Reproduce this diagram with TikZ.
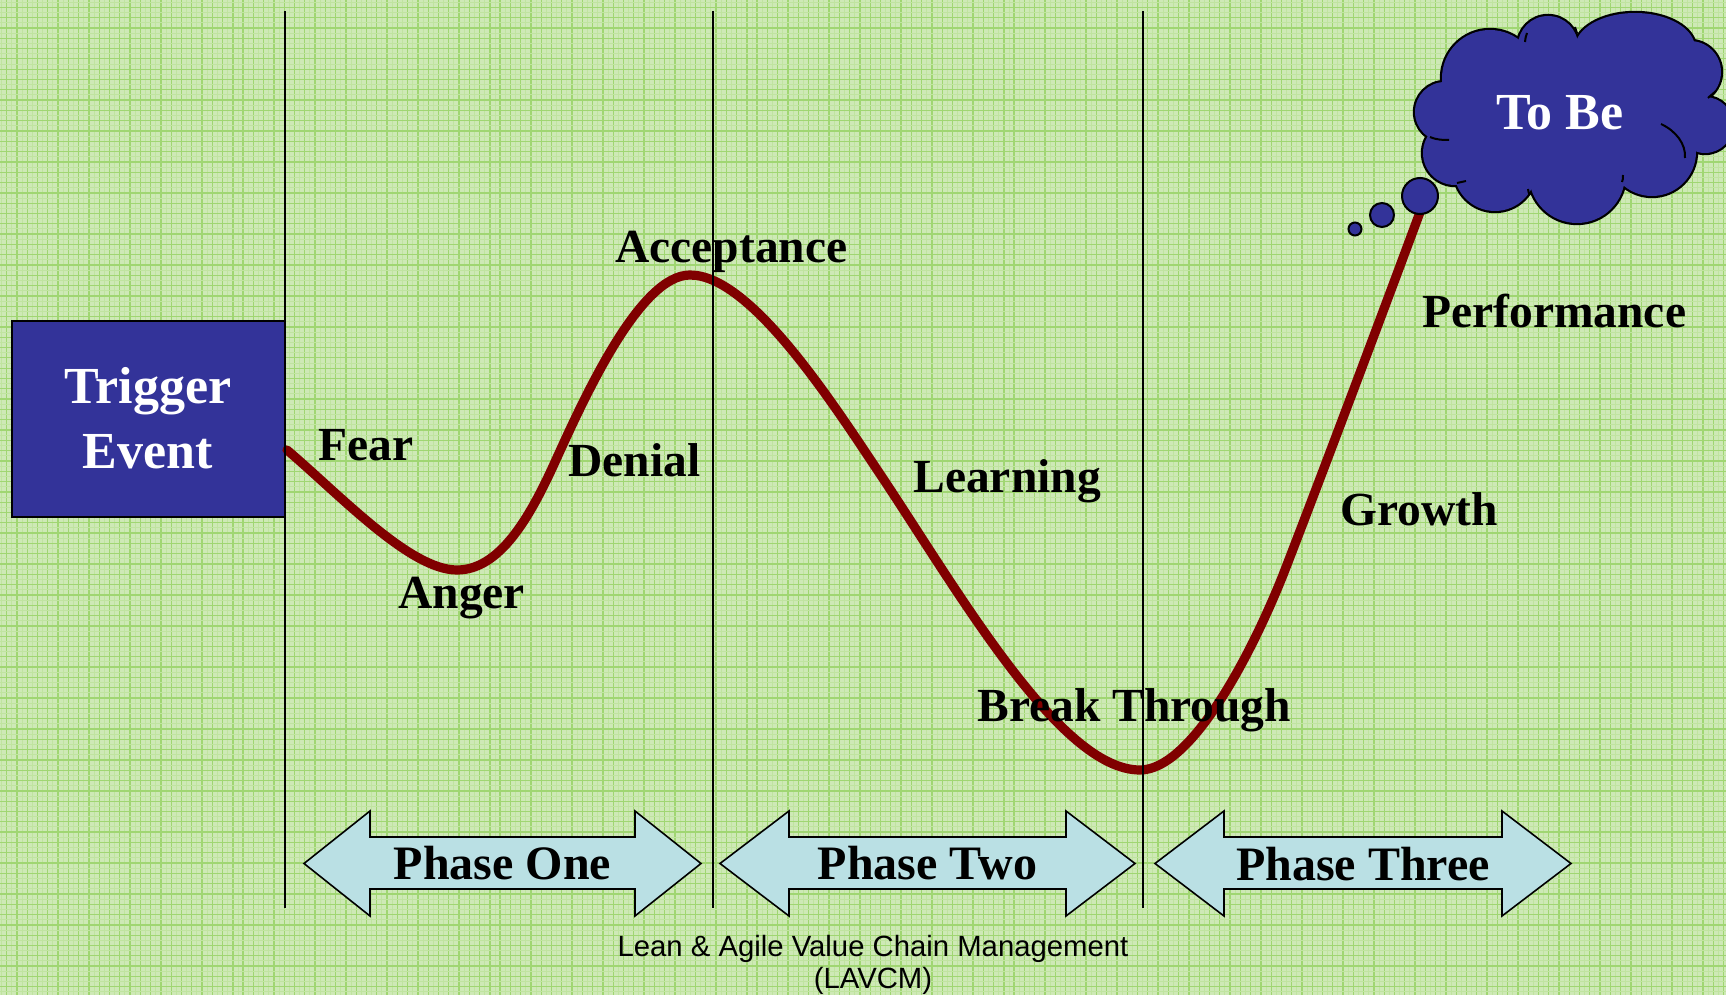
\documentclass[tikz,border=0pt]{standalone}
\usepackage{fontspec}
\setmainfont{Liberation Serif}
\newfontfamily\capfont{Liberation Sans}
\definecolor{bggreen}{RGB}{206,233,182}
\definecolor{gridgreen}{RGB}{160,214,114}
\definecolor{gridfaint}{RGB}{192,228,160}
\definecolor{navyblue}{RGB}{51,51,153}
\definecolor{curvered}{RGB}{128,0,0}
\definecolor{paleblue}{RGB}{186,224,228}
\begin{document}
\begin{tikzpicture}[x=0.5pt,y=-0.5pt,
  lbl/.style={inner sep=0pt, anchor=base west, font=\bfseries\fontsize{23.75}{28}\selectfont},
  biglbl/.style={inner sep=0pt, anchor=base, text=white, font=\bfseries\fontsize{26}{30}\selectfont},
  phaselbl/.style={inner sep=0pt, anchor=base, font=\bfseries\fontsize{24}{28}\selectfont},
  phasearrow/.style={fill=paleblue, draw=black, line width=0.8pt, line join=miter},
  divider/.style={draw=black, line width=1.1pt},
  changecurve/.style={draw=curvered, line width=4.6pt, line cap=round},
  cloudedge/.style={draw=black, line width=2.2pt},
  cloudcurl/.style={draw=black, line width=1pt},
  bubble/.style={fill=navyblue, draw=black, line width=1pt}]
\useasboundingbox (0,0) rectangle (1726,995);
\clip (0,0) rectangle (1726,995);
% background and grid
\fill[bggreen] (0,0) rectangle (1726,995);
\foreach \i in {0,...,168} {
  \draw[gridfaint, line width=0.5pt] ({1.56+\i*10.28},0) -- ++(0,995);
  \draw[gridgreen, line width=0.65pt] ({6.7+\i*10.28},0) -- ++(0,995);
}
\foreach \j in {0,...,97} {
  \draw[gridfaint, line width=0.5pt] (0,{2.15+\j*10.31}) -- ++(1726,0);
  \draw[gridgreen, line width=0.65pt] (0,{7.3+\j*10.31}) -- ++(1726,0);
}
% trigger box
\draw[draw=black, line width=1pt, fill=navyblue] (12,321) rectangle (285,517);
\node[biglbl] (trig1) at (148,403) {Trigger};
\node[biglbl] (trig2) at (148,468) {Event};
% change curve
\draw[changecurve] (287,450) .. controls (340,495) and (410,570) .. (457,570)
  .. controls (500,570) and (530,517) .. (555,462)
  .. controls (585,396) and (640,275) .. (690,275)
  .. controls (750,275) and (830,399) .. (880,474)
  .. controls (960,594) and (1060,770) .. (1140,770)
  .. controls (1190,770) and (1249,660) .. (1283,575)
  .. controls (1320,480) and (1395,280) .. (1426,196);
% dividers
\coordinate (d1t) at (285,11); \coordinate (d1b) at (285,908);
\coordinate (d2t) at (713,11); \coordinate (d2b) at (713,908);
\coordinate (d3t) at (1143,11); \coordinate (d3b) at (1143,908);
\draw[divider] (d1t) -- (d1b);
\draw[divider] (d2t) -- (d2b);
\draw[divider] (d3t) -- (d3b);
% labels
\node[lbl] (fear) at (318,460) {Fear};
\node[lbl] (anger) at (398,608) {Anger};
\node[lbl] (denial) at (568,476) {Denial};
\node[lbl] (accept) at (615,263) {Acceptance};
\node[lbl] (learn) at (913,492) {Learning};
\node[lbl] (break) at (977,721) {Break Through};
\node[lbl] (growth) at (1340,525) {Growth};
\node[lbl] (perf) at (1422,328) {Performance};
% phase arrows
\draw[phasearrow] (304,863.5) -- (370,811) -- (370,837) -- (635,837) -- (635,811) -- (701,863.5)
  -- (635,916) -- (635,889) -- (370,889) -- (370,916) -- cycle;
\node[phaselbl] (p1) at (502.5,879) {Phase One};
\draw[phasearrow] (720,863.5) -- (789,811) -- (789,837) -- (1066,837) -- (1066,811) -- (1135,863.5)
  -- (1066,916) -- (1066,889) -- (789,889) -- (789,916) -- cycle;
\node[phaselbl] (p2) at (927.5,879) {Phase Two};
\draw[phasearrow] (1155,863.5) -- (1224,811) -- (1224,837) -- (1502,837) -- (1502,811) -- (1571,863.5)
  -- (1502,916) -- (1502,889) -- (1224,889) -- (1224,916) -- cycle;
\node[phaselbl] (p3) at (1363,880) {Phase Three};
% caption
\node[inner sep=0pt, anchor=base, font=\capfont\fontsize{14.65}{17}\selectfont] (cap1) at (873,956) {Lean \& Agile Value Chain Management};
\node[inner sep=0pt, anchor=base, font=\capfont\fontsize{14.65}{17}\selectfont] (cap2) at (873,988) {(LAVCM)};
% cloud outline
\draw[cloudedge] (1445,112) circle (30);
\draw[cloudedge] (1455,153) circle (32);
\draw[cloudedge] (1495,170) circle (41);
\draw[cloudedge] (1577,175) circle (48);
\draw[cloudedge] (1652,152) circle (44);
\draw[cloudedge] (1705,125) circle (28);
\draw[cloudedge] (1690,72) circle (31);
\draw[cloudedge] (1635,48) ellipse (60 and 35);
\draw[cloudedge] (1548,46) circle (30);
\draw[cloudedge] (1490,78) circle (48);
% cloud fill
\fill[navyblue] (1445,112) circle (30);
\fill[navyblue] (1455,153) circle (32);
\fill[navyblue] (1495,170) circle (41);
\fill[navyblue] (1577,175) circle (48);
\fill[navyblue] (1652,152) circle (44);
\fill[navyblue] (1705,125) circle (28);
\fill[navyblue] (1690,72) circle (31);
\fill[navyblue] (1635,48) ellipse (60 and 35);
\fill[navyblue] (1548,46) circle (30);
\fill[navyblue] (1490,78) circle (48);
\fill[navyblue] (1570,115) ellipse (125 and 70);
% cloud inner curls
\draw[cloudcurl] (1661,124) .. controls (1676,131) and (1686,144) .. (1685,158);
\draw[cloudcurl] (1430,137) .. controls (1437,140) and (1443,140) .. (1449,140);
\draw[cloudcurl] (1457,183) .. controls (1460,182) and (1463,182) .. (1466,181);
\draw[cloudcurl] (1530,195) .. controls (1529,193) and (1528,192) .. (1528,189);
\draw[cloudcurl] (1622,182) .. controls (1623,180) and (1623,178) .. (1623,175);
\draw[cloudcurl] (1708,98) .. controls (1711,95) and (1714,93) .. (1716,91);
\draw[cloudcurl] (1577,33) .. controls (1576,31) and (1576,29) .. (1575,27);
\draw[cloudcurl] (1525,42) .. controls (1525,39) and (1526,36) .. (1527,33);
\node[biglbl] (tobe) at (1560,130) {To Be};
% thought bubbles
\draw[bubble] (1420,196) circle (18);
\draw[bubble] (1382,215) circle (12);
\draw[bubble] (1355,229) circle (6.5);
\end{tikzpicture}
\end{document}
